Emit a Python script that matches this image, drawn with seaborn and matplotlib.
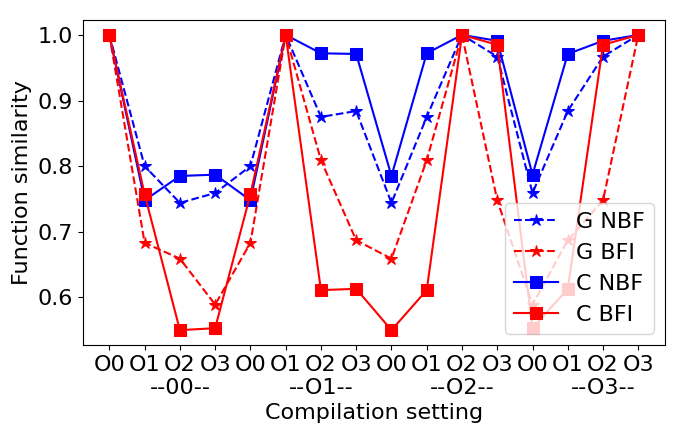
import matplotlib
matplotlib.use('Agg')
import matplotlib.pyplot as plt
import numpy as np
import seaborn as sns

settings = ['O0', 'O1', 'O2', 'O3'] * 4
groups = ['--00--', '--O1--', '--O2--', '--O3--']

g_nbf = [1.0, 0.800, 0.744, 0.759, 0.800, 1.0, 0.875, 0.884,
         0.744, 0.875, 1.0, 0.967, 0.759, 0.884, 0.967, 1.0]
g_bfi = [1.0, 0.683, 0.659, 0.589, 0.683, 1.0, 0.809, 0.687,
         0.659, 0.809, 1.0, 0.748, 0.589, 0.687, 0.748, 1.0]
c_nbf = [1.0, 0.748, 0.785, 0.787, 0.748, 1.0, 0.972, 0.971,
         0.785, 0.972, 1.0, 0.991, 0.787, 0.971, 0.991, 1.0]
c_bfi = [1.0, 0.757, 0.550, 0.553, 0.757, 1.0, 0.611, 0.613,
         0.550, 0.611, 1.0, 0.985, 0.553, 0.613, 0.985, 1.0]

x = np.arange(len(settings))

fig, ax = plt.subplots(figsize=(6.91, 4.29), dpi=100)
fig.subplots_adjust(left=0.12, right=0.962, top=0.953, bottom=0.196)

sns.lineplot(x=x, y=g_nbf, ax=ax, color='blue', linestyle='--', marker='*',
             markersize=9, markeredgecolor='blue', label='G NBF')
sns.lineplot(x=x, y=g_bfi, ax=ax, color='red', linestyle='--', marker='*',
             markersize=9, markeredgecolor='red', label='G BFI')
sns.lineplot(x=x, y=c_nbf, ax=ax, color='blue', linestyle='-', marker='s',
             markersize=8, markeredgecolor='blue', label='C NBF')
sns.lineplot(x=x, y=c_bfi, ax=ax, color='red', linestyle='-', marker='s',
             markersize=8, markeredgecolor='red', label='C BFI')

# group name goes under the O2 tick of each block
labels = []
for i, s in enumerate(settings):
    if i % 4 == 2:
        labels.append(s + '\n' + groups[i // 4])
    else:
        labels.append(s)
ax.set_xticks(x)
ax.set_xticklabels(labels, fontsize=16, va='top')
ax.tick_params(axis='y', labelsize=16)
ax.set_yticks([0.6, 0.7, 0.8, 0.9, 1.0])
ax.set_xlabel('Compilation setting', fontsize=16)
ax.set_ylabel('Function similarity', fontsize=16)
ax.legend(loc='lower right', fontsize=16)

fig.savefig('out.png', dpi=100)
